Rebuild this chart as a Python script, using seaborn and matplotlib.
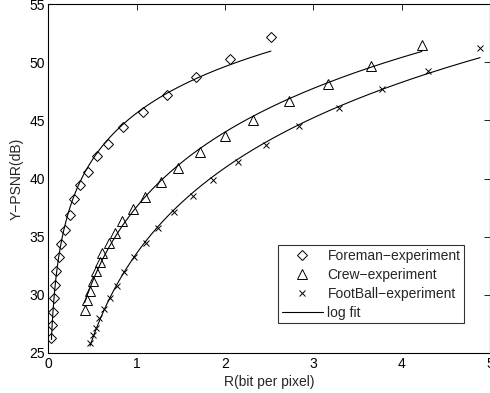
import numpy as np
import pandas as pd
import matplotlib
matplotlib.use('Agg')
import matplotlib.pyplot as plt
import seaborn as sns
from matplotlib.lines import Line2D

# rate (bit per pixel) and Y-PSNR (dB)
foreman_r = [0.034, 0.041, 0.049, 0.06, 0.072, 0.09, 0.117, 0.143, 0.185, 0.24, 0.287,
             0.355, 0.445, 0.55, 0.68, 0.85, 1.067, 1.343, 1.674, 2.06, 2.52]
foreman_psnr = [26.3, 27.4, 28.5, 29.7, 30.8, 32.0, 33.2, 34.4, 35.6, 36.9, 38.2,
                39.4, 40.6, 41.9, 43.0, 44.4, 45.7, 47.2, 48.7, 50.3, 52.2]

crew_r = [0.41, 0.44, 0.467, 0.505, 0.543, 0.58, 0.61, 0.683, 0.75, 0.837, 0.958,
          1.094, 1.272, 1.471, 1.717, 2.0, 2.32, 2.725, 3.163, 3.653, 4.228]
crew_psnr = [28.7, 29.5, 30.3, 31.2, 32.0, 32.8, 33.6, 34.45, 35.3, 36.3, 37.4,
             38.4, 39.7, 40.9, 42.3, 43.7, 45.05, 46.65, 48.1, 49.65, 51.5]

football_r = [0.471, 0.509, 0.539, 0.577, 0.625, 0.696, 0.775, 0.855, 0.969, 1.10, 1.241,
              1.418, 1.634, 1.868, 2.15, 2.465, 2.835, 3.294, 3.775, 4.296, 4.888]
football_psnr = [25.86, 26.5, 27.1, 27.95, 28.75, 29.75, 30.75, 31.95, 33.2, 34.45, 35.7,
                 37.1, 38.5, 39.9, 41.4, 42.9, 44.5, 46.1, 47.7, 49.3, 51.2]

series = [
    ('Foreman\u2212experiment', foreman_r, foreman_psnr, 'D', 4.8),
    ('Crew\u2212experiment', crew_r, crew_psnr, '^', 6.5),
    ('FootBall\u2212experiment', football_r, football_psnr, 'x', 4.0),
]

sns.set_style('white')
plt.rcParams['font.family'] = ['Liberation Sans', 'DejaVu Sans']
plt.rcParams['font.size'] = 10

fig = plt.figure(figsize=(4.9, 3.93), dpi=100)
ax = fig.add_axes([0.0988, 0.1025, 0.9012, 0.8865])

handles = []
for name, r, psnr, mk, ms in series:
    df = pd.DataFrame({'R': r, 'PSNR': psnr})
    # log fit of the measured points
    a, b = np.polyfit(np.log(df['R']), df['PSNR'], 1)
    fit = pd.DataFrame({'R': np.linspace(df['R'].min(), df['R'].max(), 300)})
    fit['PSNR'] = a * np.log(fit['R']) + b
    sns.lineplot(data=fit, x='R', y='PSNR', ax=ax, color='k', linewidth=0.8,
                 estimator=None, sort=False)
    sns.lineplot(data=df, x='R', y='PSNR', ax=ax, linestyle='none', marker=mk,
                 markersize=ms, markerfacecolor='none', markeredgecolor='k',
                 markeredgewidth=0.7, color='k', estimator=None)
    handles.append(Line2D([], [], linestyle='none', marker=mk, markersize=ms,
                          markerfacecolor='none', markeredgecolor='k',
                          markeredgewidth=0.7, label=name))
handles.append(Line2D([], [], color='k', linewidth=0.8, label='log fit'))

ax.set_xlim(0, 5)
ax.set_ylim(25, 55)
ax.set_xticks([0, 1, 2, 3, 4, 5])
ax.set_yticks([25, 30, 35, 40, 45, 50, 55])
ax.set_xlabel('R(bit per pixel)', labelpad=3)
ax.set_ylabel('Y\u2212PSNR(dB)', labelpad=4)
ax.tick_params(direction='in', length=4, width=0.6, top=True, right=True,
               colors='k', labelsize=10)
ax.tick_params(axis='x', pad=3)
ax.tick_params(axis='y', pad=2.5)
for sp in ax.spines.values():
    sp.set_visible(True)
    sp.set_color('k')
    sp.set_linewidth(0.8)

leg = ax.legend(handles=handles, loc='lower right', bbox_to_anchor=(0.941, 0.084),
                fontsize=10, handlelength=3.0, handletextpad=0.3, labelspacing=0.37,
                borderpad=0.25, borderaxespad=0, fancybox=False, frameon=True,
                numpoints=1)
leg.get_frame().set_edgecolor('k')
leg.get_frame().set_linewidth(0.8)

fig.savefig('out.png', dpi=100)
